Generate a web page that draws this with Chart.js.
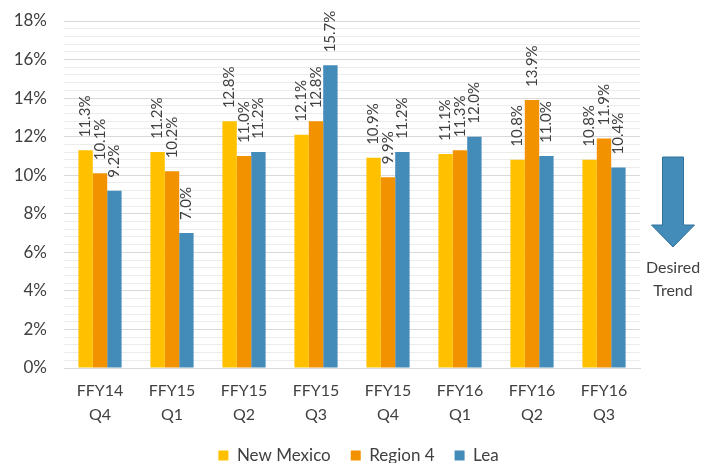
<!DOCTYPE html>
<html>
<head>
<meta charset="utf-8">
<script src="https://cdn.jsdelivr.net/npm/chart.js@4"></script>
<style>
html,body{margin:0;padding:0;background:#fff;}
#wrap{width:717px;height:463px;position:relative;}
</style>
</head>
<body>
<div id="wrap"><canvas id="c" width="717" height="463"></canvas></div>
<script>
const periods = ['FFY14','FFY15','FFY15','FFY15','FFY15','FFY16','FFY16','FFY16'];
const quarters = ['Q4','Q1','Q2','Q3','Q4','Q1','Q2','Q3'];
const seriesNames = ['New Mexico','Region 4','Lea'];
const newMexico = [11.3,11.2,12.8,12.1,10.9,11.1,10.8,10.8];
const region4 = [10.1,10.2,11.0,12.8,9.9,11.3,13.9,11.9];
const lea = [9.2,7.0,11.2,15.7,11.2,12.0,11.0,10.4];
const yMax = 18;
const yStep = 0.4;
const yLabelStep = 2;
const noteLines = ['Desired','Trend'];

const FONT = 'Lato, "Liberation Sans", sans-serif';
const TXT = '#404040';

const labelsPlugin = {
  id: 'barLabels',
  afterDatasetsDraw(chart) {
    const ctx = chart.ctx;
    ctx.save();
    ctx.font = '15px ' + FONT;
    ctx.fillStyle = TXT;
    ctx.textAlign = 'left';
    ctx.textBaseline = 'middle';
    chart.data.datasets.forEach((ds, di) => {
      const meta = chart.getDatasetMeta(di);
      meta.data.forEach((bar, i) => {
        ctx.save();
        ctx.translate(bar.x, bar.y - 13);
        ctx.rotate(-Math.PI / 2);
        ctx.fillText(ds.data[i].toFixed(1) + '%', 0, 0);
        ctx.restore();
      });
    });
    ctx.restore();
  }
};

const arrowPlugin = {
  id: 'trendArrow',
  afterDraw(chart) {
    const ctx = chart.ctx;
    const ca = chart.chartArea;
    const cx = ca.right + 33;
    const top = 157, headY = 225, tip = 247;
    ctx.save();
    ctx.beginPath();
    ctx.moveTo(cx - 10.5, top);
    ctx.lineTo(cx + 10.5, top);
    ctx.lineTo(cx + 10.5, headY);
    ctx.lineTo(cx + 21.5, headY);
    ctx.lineTo(cx, tip);
    ctx.lineTo(cx - 21.5, headY);
    ctx.lineTo(cx - 10.5, headY);
    ctx.closePath();
    ctx.fillStyle = '#438bb9';
    ctx.fill();
    ctx.lineWidth = 1;
    ctx.strokeStyle = '#31729c';
    ctx.stroke();
    ctx.font = '16px ' + FONT;
    ctx.fillStyle = TXT;
    ctx.textAlign = 'center';
    ctx.textBaseline = 'middle';
    ctx.fillText(noteLines[0], cx, 268);
    ctx.fillText(noteLines[1], cx, 291);
    ctx.restore();
  }
};

const isMajor = v => Math.abs(v / yLabelStep - Math.round(v / yLabelStep)) < 1e-6;

new Chart(document.getElementById('c'), {
  type: 'bar',
  data: {
    labels: periods.map((p, i) => [p, quarters[i]]),
    datasets: [
      {label: seriesNames[0], data: newMexico, backgroundColor: '#FFC000'},
      {label: seriesNames[1], data: region4, backgroundColor: '#F39200'},
      {label: seriesNames[2], data: lea, backgroundColor: '#438BB9'}
    ]
  },
  options: {
    responsive: false,
    animation: false,
    devicePixelRatio: 1,
    categoryPercentage: 0.6,
    barPercentage: 1.0,
    layout: {padding: {left: 0, right: 0, top: 21, bottom: -11}},
    plugins: {
      legend: {
        position: 'bottom',
        labels: {
          boxWidth: 10, boxHeight: 10, padding: 20,
          color: TXT,
          font: {family: FONT, size: 17}
        }
      },
      tooltip: {enabled: false}
    },
    scales: {
      x: {
        grid: {display: false},
        border: {display: true, color: '#d9d9d9'},
        ticks: {
          color: TXT, padding: 3,
          font: {family: FONT, size: 16, lineHeight: 1.5},
          maxRotation: 0, autoSkip: false
        },
        afterFit(s) { s.height = 59; s.paddingLeft = 0; s.paddingRight = 0; }
      },
      y: {
        min: 0, max: yMax,
        border: {display: false},
        grid: {
          drawTicks: false,
          color: ctx => isMajor(ctx.tick.value) ? '#d9d9d9' : '#ececec'
        },
        ticks: {
          stepSize: yStep, maxTicksLimit: 100, autoSkip: false,
          padding: 17, color: TXT,
          font: {family: FONT, size: 17},
          callback: v => isMajor(v) ? Math.round(v) + '%' : ''
        },
        afterFit(s) { s.width = 64; s.paddingTop = 0; s.paddingBottom = 0; }
      },
      side: {
        position: 'right',
        min: 0, max: 1,
        grid: {display: false},
        border: {display: false},
        ticks: {display: false},
        afterFit(s) { s.width = 77; s.paddingTop = 0; s.paddingBottom = 0; }
      }
    }
  },
  plugins: [labelsPlugin, arrowPlugin]
});
</script>
</body>
</html>
